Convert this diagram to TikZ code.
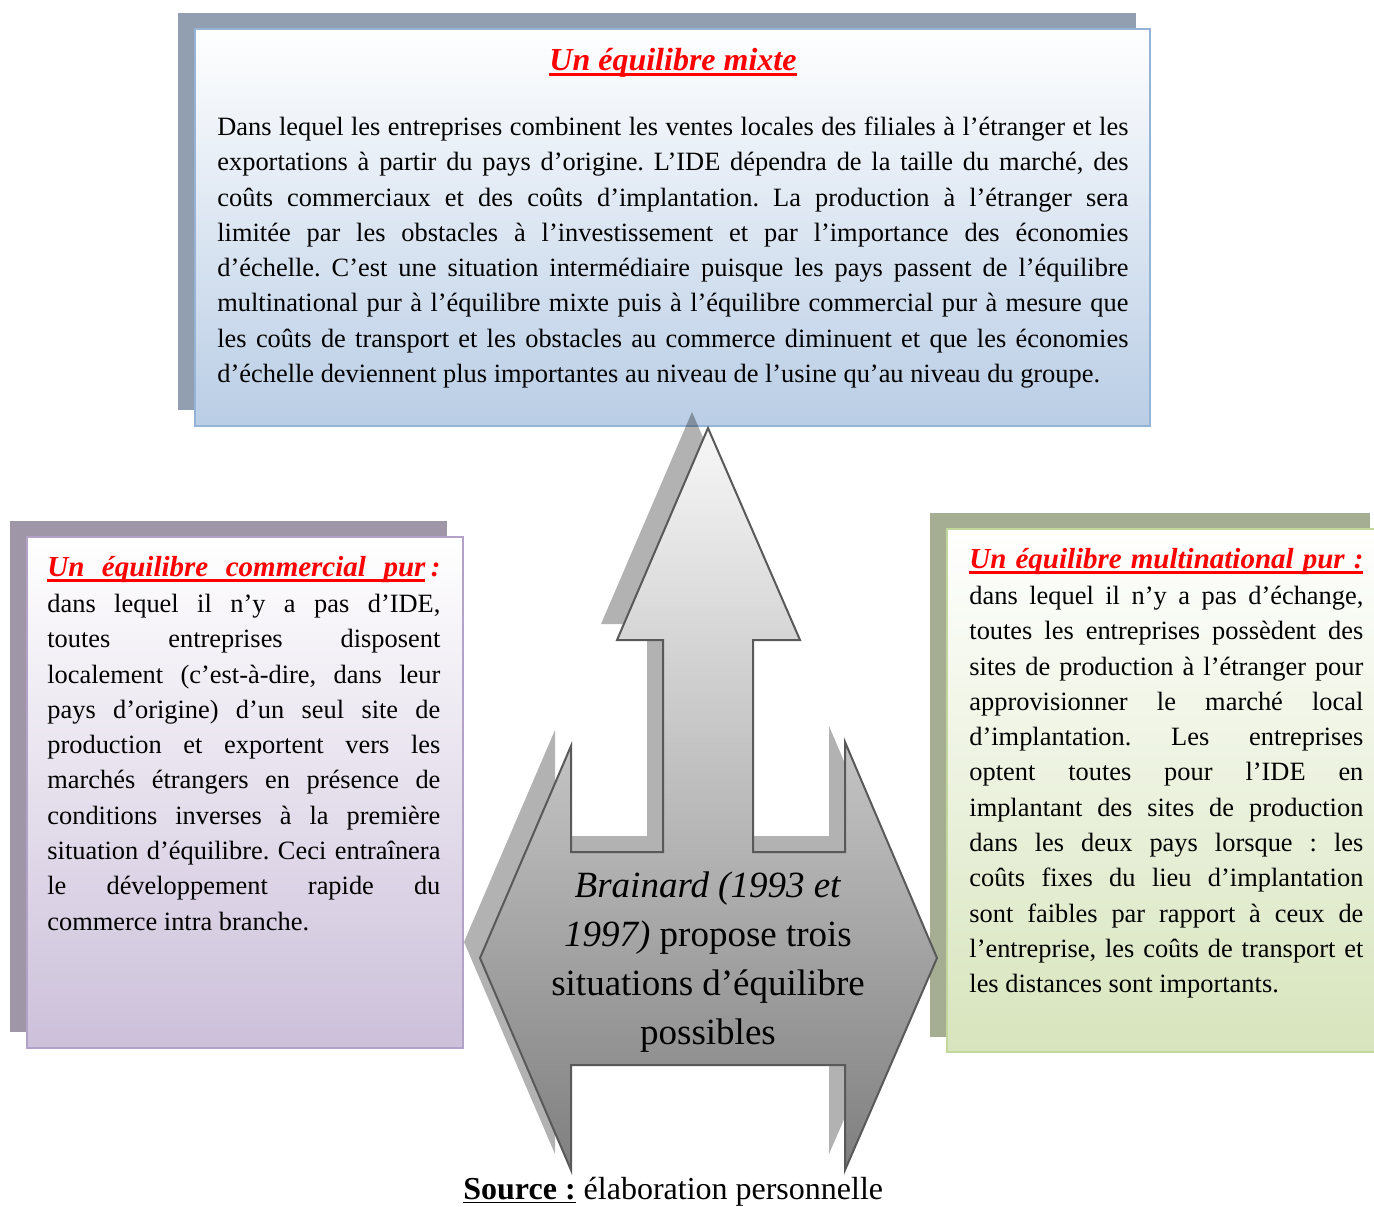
\documentclass[tikz,border=0pt]{standalone}
\usepackage{fontspec}
\setmainfont{Liberation Serif}
\usepackage{xcolor}
\definecolor{mixshadow}{HTML}{929FB1}
\definecolor{mixborder}{HTML}{95B3D7}
\definecolor{mixfill}{HTML}{B9CDE5}
\definecolor{comshadow}{HTML}{9F97A8}
\definecolor{comborder}{HTML}{B3A2C7}
\definecolor{comfill}{HTML}{CCC0DA}
\definecolor{mulshadow}{HTML}{A5AE93}
\definecolor{mulborder}{HTML}{C3D69B}
\definecolor{mulfill}{HTML}{D7E4BC}
\definecolor{arrowline}{HTML}{595959}
\newcommand{\redul}[1]{\setbox0=\hbox{#1}\rlap{\rule[-3pt]{\wd0}{1.3pt}}\box0}
\newcommand{\firststrut}{\rule{0pt}{12pt}}
\newcommand{\threearrow}{(708,428) -- (800,640) -- (753,640) -- (753,852) -- (845,852)
  -- (845,742) -- (937,958) -- (845,1170) -- (845,1065) -- (571,1065) -- (571,1170)
  -- (480,958) -- (571,746) -- (571,852) -- (663,852) -- (663,640) -- (617,640) -- cycle}
\hyphenpenalty=10000
\tolerance=10000
\frenchspacing
\tikzset{
  bodytext/.style={anchor=north west, inner sep=0pt, align=justify,
    font=\fontsize{13.2}{17.65}\selectfont},
  titletext/.style={anchor=base west, inner sep=0pt, text=red,
    font=\fontsize{14.5}{17}\selectfont\bfseries\itshape},
}
\begin{document}
\begin{tikzpicture}[x=0.5pt,y=-0.5pt]
  \useasboundingbox (0,0) rectangle (1374,1206);
  \clip (0,0) rectangle (1374,1206);
  % the three boxes
  \fill[mixshadow] (178,13) rectangle (1136,410);
  \draw[mixborder, line width=1pt, top color=white, bottom color=mixfill] (195,29) rectangle (1150,426);
  \fill[comshadow] (10,521) rectangle (447,1032);
  \draw[comborder, line width=1pt, top color=white, bottom color=comfill] (27,537) rectangle (463,1048);
  \fill[mulshadow] (930,513) rectangle (1370,1037);
  \draw[mulborder, line width=1pt, top color=white, bottom color=mulfill] (947,529) rectangle (1383,1052);
  %
  \node[titletext, anchor=base, font=\fontsize{16}{19}\selectfont\bfseries\itshape] (mixtetitle) at (673,70)
    {\redul{Un équilibre mixte}};
  \node[bodytext, text width=455.5pt] (mixtetext) at (217,111) {\firststrut
    Dans lequel les entreprises combinent les ventes locales des filiales à l’étranger et les\linebreak
    exportations à partir du pays d’origine. L’IDE dépendra de la taille du marché, des\linebreak
    coûts commerciaux et des coûts d’implantation. La production à l’étranger sera\linebreak
    limitée par les obstacles à l’investissement et par l’importance des économies\linebreak
    d’échelle. C’est une situation intermédiaire puisque les pays passent de l’équilibre\linebreak
    multinational pur à l’équilibre mixte puis à l’équilibre commercial pur à mesure que\linebreak
    les coûts de transport et les obstacles au commerce diminuent et que les économies\linebreak
    d’échelle deviennent plus importantes au niveau de l’usine qu’au niveau du groupe.};
  %
  \node[titletext] (comtitle) at (47,576)
    {\hbox to 196.5pt{\redul{\makebox[189pt][s]{Un équilibre commercial pur}}\hfill:}};
  \node[bodytext, text width=196.5pt] (comtext) at (47,588) {\firststrut
    dans lequel il n’y a pas d’IDE,\linebreak
    toutes entreprises disposent\linebreak
    localement (c’est-à-dire, dans leur\linebreak
    pays d’origine) d’un seul site de\linebreak
    production et exportent vers les\linebreak
    marchés étrangers en présence de\linebreak
    conditions inverses à la première\linebreak
    situation d’équilibre. Ceci entraînera\linebreak
    le développement rapide du\linebreak
    commerce intra branche.};
  %
  \node[titletext] (multititle) at (969,568)
    {\redul{\makebox[197pt][s]{Un équilibre multinational pur :}}};
  \node[bodytext, text width=197pt] (multitext) at (969,580) {\firststrut
    dans lequel il n’y a pas d’échange,\linebreak
    toutes les entreprises possèdent des\linebreak
    sites de production à l’étranger pour\linebreak
    approvisionner le marché local\linebreak
    d’implantation. Les entreprises\linebreak
    optent toutes pour l’IDE en\linebreak
    implantant des sites de production\linebreak
    dans les deux pays lorsque : les\linebreak
    coûts fixes du lieu d’implantation\linebreak
    sont faibles par rapport à ceux de\linebreak
    l’entreprise, les coûts de transport et\linebreak
    les distances sont importants.};
  % the arrow in three directions
  \path[fill=black, fill opacity=0.3, shift={(-16,-16)}] \threearrow;
  \path[draw=arrowline, line width=1pt, top color=black!3, middle color=black!20,
    bottom color=black!50] \threearrow;
  \node[anchor=north, align=center, inner sep=0pt, font=\fontsize{18.5}{24.5}\selectfont] (brainard)
    at (708,861) {\rule{0pt}{18pt}\textit{Brainard (1993 et}\\ \textit{1997)} propose trois\\
    situations d’équilibre\\ possibles};
  %
  \node[anchor=base west, inner sep=0pt, font=\fontsize{16}{19}\selectfont] (source) at (463,1199)
    {\textbf{\underline{Source :}} élaboration personnelle};
\end{tikzpicture}
\end{document}
